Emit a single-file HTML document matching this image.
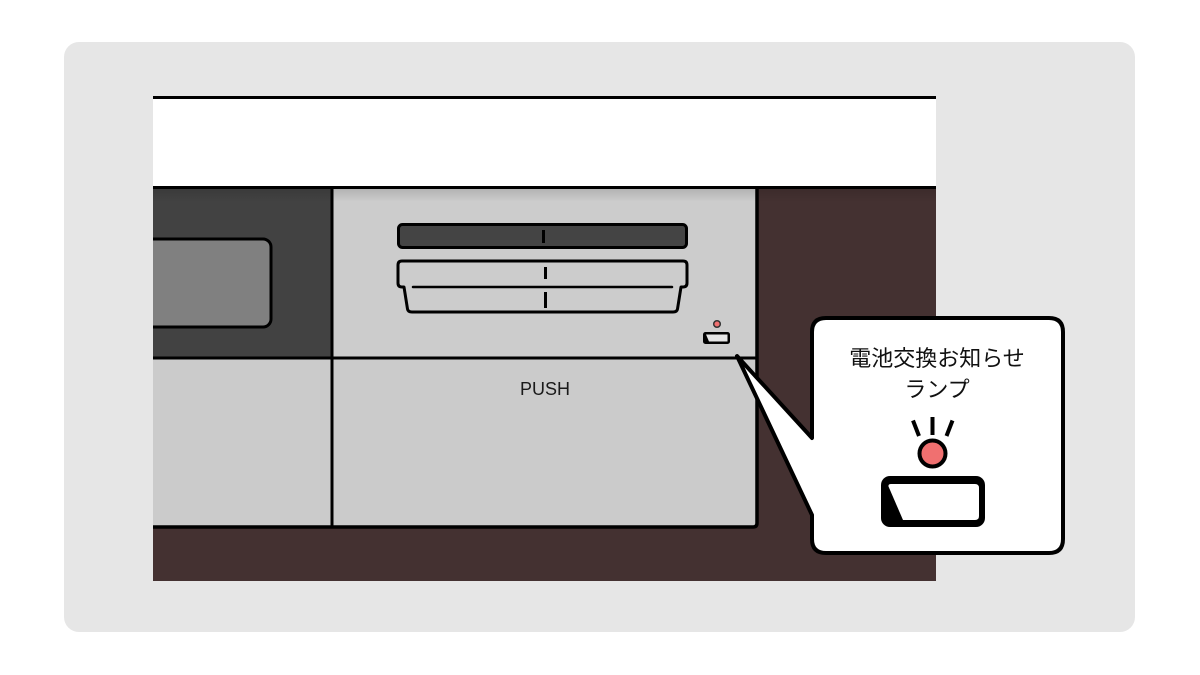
<!DOCTYPE html>
<html>
<head>
<meta charset="utf-8">
<style>
  html,body{margin:0;padding:0;background:#ffffff;}
  body{width:1200px;height:675px;overflow:hidden;}
  svg{display:block;}
</style>
</head>
<body>
<svg width="1200" height="675" viewBox="0 0 1200 675" xmlns="http://www.w3.org/2000/svg">
  <defs>
    <clipPath id="scene"><rect x="153" y="96" width="783" height="485"/></clipPath>
    <linearGradient id="shadow" x1="0" y1="0" x2="0" y2="1">
      <stop offset="0" stop-color="#000" stop-opacity="0.13"/>
      <stop offset="1" stop-color="#000" stop-opacity="0"/>
    </linearGradient>
  </defs>

  <!-- outer background card -->
  <rect x="64" y="42" width="1071" height="590" rx="15" ry="15" fill="#e6e6e6"/>

  <g clip-path="url(#scene)">
    <!-- brown base -->
    <rect x="153" y="187" width="783" height="394" fill="#443131"/>
    <!-- upper left dark panel -->
    <rect x="153" y="187" width="179" height="171" fill="#424242"/>
    <!-- display -->
    <rect x="130" y="239" width="141" height="88" rx="8" ry="8" fill="#808080" stroke="#000" stroke-width="3"/>
    <!-- upper middle panel -->
    <rect x="332" y="187" width="425" height="171" fill="#cccccc"/>
    <!-- lower left panel -->
    <rect x="153" y="358" width="179" height="169" fill="#cbcbcb"/>
    <!-- lower middle panel -->
    <path d="M332 358 H757 V523 Q757 527 753 527 H332 Z" fill="#cbcbcb"/>

    <!-- shadow under counter -->
    <rect x="153" y="188" width="783" height="14" fill="url(#shadow)"/>

    <!-- panel lines -->
    <line x1="153" y1="187.5" x2="936" y2="187.5" stroke="#000" stroke-width="3"/>
    <line x1="332" y1="187" x2="332" y2="528" stroke="#000" stroke-width="3"/>
    <path d="M757 187 V523 Q757 527 753 527 H153" fill="none" stroke="#000" stroke-width="3.5"/>
    <line x1="153" y1="358" x2="757" y2="358" stroke="#000" stroke-width="3"/>

    <!-- white counter top -->
    <rect x="153" y="97" width="783" height="89" fill="#ffffff"/>
    <line x1="153" y1="97.5" x2="936" y2="97.5" stroke="#000" stroke-width="3"/>
  </g>

  <!-- dark bar -->
  <rect x="398.5" y="224.5" width="288" height="23" rx="4" ry="4" fill="#444444" stroke="#000" stroke-width="3"/>
  <line x1="543.5" y1="230" x2="543.5" y2="243" stroke="#000" stroke-width="3"/>

  <!-- tray -->
  <path d="M402 261 H683 Q687 261 687 265 V283 Q687 287 683 287 L681 287 L677.5 309 Q677 312 673 312 H412 Q408 312 407.5 309 L404 287 L402 287 Q398 287 398 283 V265 Q398 261 402 261 Z" fill="#cccccc" stroke="#000" stroke-width="3" stroke-linejoin="round"/>
  <line x1="413" y1="287" x2="672" y2="287" stroke="#000" stroke-width="2.5" stroke-linecap="round"/>
  <line x1="545.5" y1="267" x2="545.5" y2="279" stroke="#000" stroke-width="3"/>
  <line x1="545.5" y1="292" x2="545.5" y2="308" stroke="#000" stroke-width="3"/>

  <!-- small lamp -->
  <circle cx="717" cy="324" r="3.3" fill="#f07070" stroke="#333" stroke-width="1.5"/>
  <rect x="703" y="332" width="27" height="12" rx="2.5" ry="2.5" fill="#000"/>
  <path d="M706 334.5 H727.5 V341.5 H709 Z" fill="#e4e4e4"/>

  <!-- PUSH -->
  <text x="545" y="395" text-anchor="middle" font-family="'Liberation Sans', sans-serif" font-size="18" fill="#1a1a1a">PUSH</text>

  <!-- callout bubble -->
  <path d="M826 318 H1049 Q1063 318 1063 332 V539 Q1063 553 1049 553 H826 Q812 553 812 539 V515 L737 356 L812 438 V332 Q812 318 826 318 Z" fill="#ffffff" stroke="#000" stroke-width="4" stroke-linejoin="round"/>

  <text x="937" y="366" text-anchor="middle" font-family="'Liberation Sans', 'Noto Sans CJK JP', sans-serif" font-size="22" fill="#111">電池交換お知らせ</text>
  <text x="937" y="397" text-anchor="middle" font-family="'Liberation Sans', 'Noto Sans CJK JP', sans-serif" font-size="22" fill="#111">ランプ</text>

  <!-- rays -->
  <line x1="913" y1="420.5" x2="919" y2="436" stroke="#000" stroke-width="4"/>
  <line x1="932.5" y1="417" x2="932.5" y2="435" stroke="#000" stroke-width="4"/>
  <line x1="952.5" y1="420.5" x2="946.5" y2="436" stroke="#000" stroke-width="4"/>

  <!-- red lamp -->
  <circle cx="932.5" cy="453.5" r="13" fill="#f07070" stroke="#000" stroke-width="4"/>

  <!-- big lamp -->
  <rect x="881" y="476" width="104" height="51" rx="9" ry="9" fill="#000"/>
  <path d="M891 484 H975 Q979 484 979 488 V516 Q979 520 975 520 H903 L888.5 486.5 Q888 484 891 484 Z" fill="#ffffff"/>
</svg>
</body>
</html>
